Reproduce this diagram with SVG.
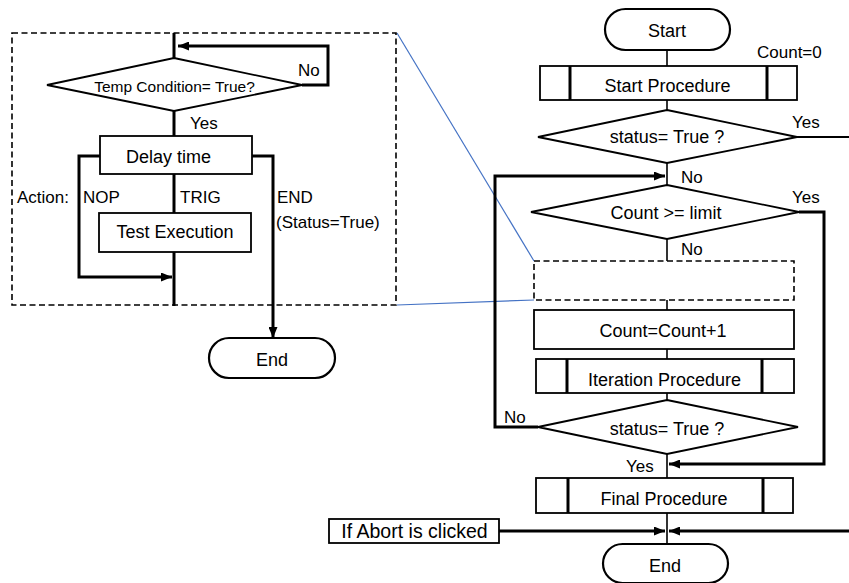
<svg xmlns="http://www.w3.org/2000/svg" width="849" height="583" viewBox="0 0 849 583">
<defs>
<marker id="ah" viewBox="0 0 11 9" refX="11" refY="4.5" markerWidth="11" markerHeight="9" markerUnits="userSpaceOnUse" orient="auto">
<path d="M0,0 L11,4.5 L0,9 z" fill="#000"/>
</marker>
<style>
text{font-family:"Liberation Sans",Arial,sans-serif;font-size:18px;fill:#000}
.c{text-anchor:middle}
.lbl{font-size:17px}
.box{fill:#fff;stroke:#000;stroke-width:1.8}
.oval{fill:#fff;stroke:#000;stroke-width:2.2}
.inner{stroke:#000;stroke-width:3}
.dash{fill:none;stroke:#000;stroke-width:1.6;stroke-dasharray:6,3.5}
.thin{fill:none;stroke:#000;stroke-width:1.6}
.thick{fill:none;stroke:#000;stroke-width:3}
.blue{fill:none;stroke:#4472C4;stroke-width:1.2}
</style>
</defs>
<rect width="849" height="583" fill="#fff"/>

<g id="zoom-lines">
<line class="blue" x1="397" y1="33" x2="534" y2="261"/>
<line class="blue" x1="397" y1="305" x2="534" y2="300"/>
</g>

<g id="connectors">
<!-- left panel -->
<line class="thick" x1="174" y1="33" x2="174" y2="58"/>
<path class="thick" d="M302,85 H328 V46 H178" marker-end="url(#ah)"/>
<line class="thick" x1="174" y1="111" x2="174" y2="136"/>
<path class="thick" d="M100,156 H79 V277 H172" marker-end="url(#ah)"/>
<path class="thick" d="M252,156 H273 V338" marker-end="url(#ah)"/>
<line class="thick" x1="174" y1="174" x2="174" y2="213"/>
<line class="thick" x1="174" y1="252" x2="174" y2="306"/>
<!-- right panel main flow -->
<line class="thin" x1="667" y1="50" x2="667" y2="66"/>
<line class="thin" x1="667" y1="100" x2="667" y2="110"/>
<line class="thin" x1="667" y1="163" x2="667" y2="185"/>
<line class="thin" x1="667" y1="239" x2="667" y2="261"/>
<line class="thin" x1="667" y1="300" x2="667" y2="310"/>
<line class="thin" x1="667" y1="349" x2="667" y2="359"/>
<line class="thin" x1="667" y1="393" x2="667" y2="400"/>
<line class="thin" x1="667" y1="454" x2="667" y2="478"/>
<line class="thin" x1="667" y1="513" x2="667" y2="544"/>
<line x1="797" y1="137" x2="849" y2="137" stroke="#000" stroke-width="2"/>
<path class="thick" d="M538,427 H495 V176 H665" marker-end="url(#ah)"/>
<path class="thick" d="M799,212 H824 V464 H669" marker-end="url(#ah)"/>
<line class="thick" x1="499" y1="531" x2="665" y2="531" marker-end="url(#ah)"/>
<line class="thick" x1="849" y1="531" x2="669" y2="531" marker-end="url(#ah)"/>
</g>

<g id="left-panel">
<rect class="dash" x="12" y="33" width="384" height="272"/>
</g>

<g id="temp-condition">
<polygon class="box" points="174,58 302,85 174,111 47,85"/>
<text x="174.5" y="92" class="c" style="font-size:15.5px">Temp Condition= True?</text>
</g>
<g id="delay-time">
<rect class="box" x="100" y="136" width="152" height="38"/>
<text x="168.5" y="163" class="c">Delay time</text>
</g>
<g id="test-execution">
<rect class="box" x="99" y="213" width="152" height="39"/>
<text x="175" y="238" class="c">Test Execution</text>
</g>
<g id="end-left">
<rect class="oval" x="209" y="338" width="126" height="40" rx="20" ry="20"/>
<text x="272" y="366" class="c">End</text>
</g>

<g id="start">
<rect class="oval" x="605" y="9" width="125" height="41" rx="20.5" ry="20.5"/>
<text x="667" y="37" class="c">Start</text>
</g>
<g id="start-procedure">
<rect class="box" x="540" y="66" width="257" height="34"/>
<line class="inner" x1="570" y1="66" x2="570" y2="100"/>
<line class="inner" x1="767" y1="66" x2="767" y2="100"/>
<text x="667.5" y="92" class="c">Start Procedure</text>
</g>
<g id="status1">
<polygon class="box" points="667,110 797,137 667,163 538,137"/>
<text x="667" y="143" class="c">status= True ?</text>
</g>
<g id="count-limit">
<polygon class="box" points="667,185 799,212 667,239 531,212"/>
<text x="666" y="219" class="c">Count &gt;= limit</text>
</g>
<g id="iteration-placeholder">
<rect class="dash" x="534" y="261" width="260" height="39"/>
</g>
<g id="count-inc">
<rect class="box" x="534" y="310" width="260" height="39"/>
<text x="663" y="337" class="c">Count=Count+1</text>
</g>
<g id="iteration-procedure">
<rect class="box" x="536" y="359" width="258" height="34"/>
<line class="inner" x1="567" y1="359" x2="567" y2="393"/>
<line class="inner" x1="762" y1="359" x2="762" y2="393"/>
<text x="664.5" y="386" class="c">Iteration Procedure</text>
</g>
<g id="status2">
<polygon class="box" points="667,400 798,427 667,454 538,427"/>
<text x="667" y="435" class="c">status= True ?</text>
</g>
<g id="final-procedure">
<rect class="box" x="536" y="478" width="257" height="35"/>
<line class="inner" x1="568" y1="478" x2="568" y2="513"/>
<line class="inner" x1="763" y1="478" x2="763" y2="513"/>
<text x="664" y="505" class="c">Final Procedure</text>
</g>
<g id="abort">
<rect class="box" x="329" y="519" width="170" height="24"/>
<text x="414.5" y="538" class="c" style="font-size:19.5px">If Abort is clicked</text>
</g>
<g id="end-right">
<rect class="oval" x="603" y="544" width="125" height="39" rx="19.5" ry="19.5"/>
<text x="665" y="572" class="c">End</text>
</g>

<g id="labels">
<text x="298" y="76" class="lbl">No</text>
<text x="190" y="129" class="lbl">Yes</text>
<text y="203" class="lbl"><tspan x="17">Action:</tspan> <tspan x="83">NOP</tspan></text>
<text x="180" y="203" class="lbl">TRIG</text>
<text x="277" y="203" class="lbl">END</text>
<text x="276" y="228" class="lbl">(Status=True)</text>
<text x="757" y="58" class="lbl">Count=0</text>
<text x="792" y="128" class="lbl">Yes</text>
<text x="681" y="183" class="lbl">No</text>
<text x="792" y="203" class="lbl">Yes</text>
<text x="681" y="255" class="lbl">No</text>
<text x="504" y="423" class="lbl">No</text>
<text x="626" y="472" class="lbl">Yes</text>
</g>
</svg>
